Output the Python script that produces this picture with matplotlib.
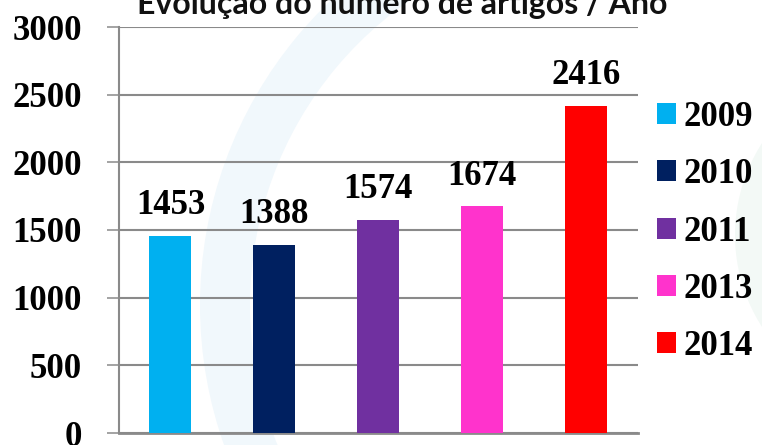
import matplotlib
matplotlib.use("Agg")
import matplotlib.pyplot as plt
from matplotlib.patches import Wedge, Circle

anos = ['2009', '2010', '2011', '2013', '2014']
artigos = [1453, 1388, 1574, 1674, 2416]
cores = ['#00B0F0', '#002060', '#7030A0', '#FF33CC', '#FF0000']
yticks = [0, 500, 1000, 1500, 2000, 2500, 3000]

W, H = 762, 445
fig = plt.figure(figsize=(W / 100, H / 100), dpi=100)
fig.patch.set_facecolor('white')

# faint watermark swooshes in the background
fig.patches.append(Wedge((620, 140), 420, 100, 260, width=50, facecolor='#f1f8fc',
                         edgecolor='none', transform=None, zorder=0))
fig.patches.append(Circle((905, 210), 170, facecolor='#f3f9f6', edgecolor='none',
                          transform=None, zorder=0))

ax = fig.add_axes([118.5 / W, 12 / H, (638 - 118.5) / W, (433 - 27) / H])
ax.set_zorder(2)
ax.patch.set_alpha(0)

gray = '#8a8a8a'
x = range(len(anos))
bars = ax.bar(x, artigos, width=0.404, color=cores, zorder=3)

ax.set_xlim(-0.5, 4.5)
ax.set_ylim(0, 3000)
ax.set_yticks(yticks)
ax.set_xticks([])
ax.yaxis.grid(True, color=gray, linewidth=1.5, zorder=1)
ax.set_axisbelow(True)

for s in ['top', 'right']:
    ax.spines[s].set_visible(False)
ax.spines['left'].set_color(gray)
ax.spines['left'].set_linewidth(1.5)
ax.spines['bottom'].set_color(gray)
ax.spines['bottom'].set_linewidth(2)

ax.tick_params(axis='y', length=8.3, width=1.1, color=gray, pad=18)
for t in ax.get_yticklabels():
    t.set_fontfamily('Liberation Serif')
    t.set_fontweight('bold')
    t.set_fontsize(25)

ax.bar_label(bars, labels=[str(v) for v in artigos], padding=10,
             fontsize=25, fontweight='bold', fontfamily='Liberation Serif')

leg = ax.legend(bars, anos, loc='center left', bbox_to_anchor=(657 / W, (H - 232) / H),
                bbox_transform=fig.transFigure, frameon=False, borderpad=0,
                borderaxespad=0, handlelength=0.55, handleheight=0.55,
                handletextpad=0.2, labelspacing=0.7,
                prop={'family': 'Liberation Serif', 'weight': 'bold', 'size': 25})

fig.text(402 / W, (H - 14) / H, 'Evolução do número de artigos / Ano', ha='center',
         va='baseline', fontsize=23, fontweight='bold', fontfamily='Lato', color='#111111')

fig.savefig('out.png', dpi=100)
